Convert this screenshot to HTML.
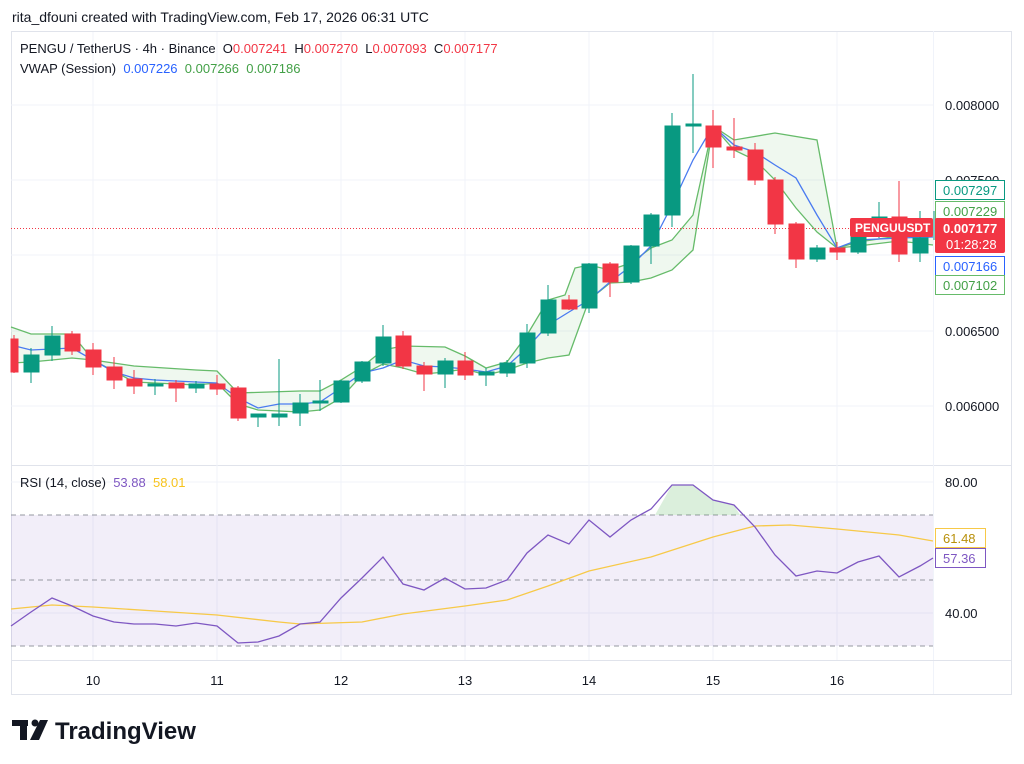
<!DOCTYPE html>
<html><head><meta charset="utf-8"><style>
body{margin:0;background:#fff;font-family:"Liberation Sans",sans-serif;}
svg{display:block}
</style></head><body>
<svg width="1024" height="764" xmlns="http://www.w3.org/2000/svg" font-family="Liberation Sans, sans-serif">
<rect width="1024" height="764" fill="#fff"/>
<text x="12" y="22" font-size="14" fill="#131722">rita_dfouni created with TradingView.com, Feb 17, 2026 06:31 UTC</text>
<rect x="11.5" y="31.5" width="1000" height="663" fill="none" stroke="#e0e3eb"/>
<line x1="11" y1="465.5" x2="1012" y2="465.5" stroke="#e0e3eb"/>
<line x1="933.5" y1="31" x2="933.5" y2="694" stroke="#f0f3fa"/>
<line x1="11" y1="660.5" x2="1012" y2="660.5" stroke="#e0e3eb"/>
<g stroke="#f0f3fa">
<line x1="93" y1="32" x2="93" y2="660"/><line x1="217" y1="32" x2="217" y2="660"/><line x1="341" y1="32" x2="341" y2="660"/><line x1="465" y1="32" x2="465" y2="660"/><line x1="589" y1="32" x2="589" y2="660"/><line x1="713" y1="32" x2="713" y2="660"/><line x1="837" y1="32" x2="837" y2="660"/>
<line x1="11" y1="105" x2="933" y2="105"/><line x1="11" y1="180" x2="933" y2="180"/><line x1="11" y1="255" x2="933" y2="255"/><line x1="11" y1="331" x2="933" y2="331"/><line x1="11" y1="406" x2="933" y2="406"/>
<line x1="11" y1="482" x2="933" y2="482"/><line x1="11" y1="613" x2="933" y2="613"/>
</g>
<text x="20" y="53" font-size="13" fill="#131722" xml:space="preserve">PENGU / TetherUS · 4h · Binance  O<tspan fill="#f23645">0.007241</tspan>  H<tspan fill="#f23645">0.007270</tspan>  L<tspan fill="#f23645">0.007093</tspan>  C<tspan fill="#f23645">0.007177</tspan></text>
<text x="20" y="73" font-size="13" fill="#131722" xml:space="preserve">VWAP (Session)  <tspan fill="#2962ff">0.007226</tspan>  <tspan fill="#43a047">0.007266</tspan>  <tspan fill="#43a047">0.007186</tspan></text>
<polygon fill="rgba(76,175,80,0.09)" points="11,327 31,334 72,334 93,360 134,366 196,370 217,371 238,393 300,391 320,391 341,380 362,367 383,350 403,346 445,347 465,356 486,368 507,362 527,335 548,300 565,295 575,268 589,265 610,270 631,263 651,248 672,240 693,215 713,126 734,140 775,133 817,140 837,248 858,242 899,236 933,230 933,245 899,241 858,246 837,248 817,232 796,208 775,180 755,160 734,150 713,126 693,250 672,270 651,278 631,282 610,283 589,300 569,355 548,358 527,363 507,370 486,375 465,369 445,372 424,374 403,368 383,364 362,375 341,398 320,410 300,412 258,410 238,404 217,383 196,385 155,383 134,382 93,360 72,358 52,360 31,362 11,363"/>
<polyline fill="none" stroke="#66bb6a" stroke-width="1.3" points="11,327 31,334 72,334 93,360 134,366 196,370 217,371 238,393 300,391 320,391 341,380 362,367 383,350 403,346 445,347 465,356 486,368 507,362 527,335 548,300 565,295 575,268 589,265 610,270 631,263 651,248 672,240 693,215 713,126 734,140 775,133 817,140 837,248 858,242 899,236 933,230"/>
<polyline fill="none" stroke="#66bb6a" stroke-width="1.3" points="11,363 31,362 52,360 72,358 93,360 134,382 155,383 196,385 217,383 238,404 258,410 300,412 320,410 341,398 362,375 383,364 403,368 424,374 445,372 465,369 486,375 507,370 527,363 548,358 569,355 589,300 610,283 631,282 651,278 672,270 693,250 713,126 734,150 755,160 775,180 796,208 817,232 837,248 858,246 899,241 933,245"/>
<polyline fill="none" stroke="#4a7bf0" stroke-width="1.3" points="11,345 31,350 52,349 72,348 93,360 114,372 134,378 155,380 196,382 217,383 238,398 258,408 279,404 300,404 320,402 341,388 362,373 383,368 403,360 424,366 445,367 465,369 486,372 507,366 527,348 548,325 569,312 589,300 610,282 631,266 651,246 672,205 693,160 713,126 734,145 755,152 775,165 796,178 817,215 837,248 858,240 899,238 933,237"/>
<line x1="11" y1="228.5" x2="933" y2="228.5" stroke="#f23645" stroke-dasharray="1,2"/>
<g stroke-width="1">
<g stroke="#f23645" fill="#f23645">
<line x1="14" y1="335" x2="14" y2="373"/><rect x="11" y="339" width="7" height="33"/>
<line x1="72" y1="331" x2="72" y2="355"/><rect x="65" y="334" width="15" height="17"/>
<line x1="93" y1="343" x2="93" y2="375"/><rect x="86" y="350" width="15" height="17"/>
<line x1="114" y1="357" x2="114" y2="389"/><rect x="107" y="367" width="15" height="13"/>
<line x1="134" y1="370" x2="134" y2="394"/><rect x="127" y="379" width="15" height="7"/>
<line x1="176" y1="380" x2="176" y2="402"/><rect x="169" y="383" width="15" height="5"/>
<line x1="217" y1="375" x2="217" y2="395"/><rect x="210" y="384" width="15" height="5"/>
<line x1="238" y1="386" x2="238" y2="421"/><rect x="231" y="388" width="15" height="30"/>
<line x1="403" y1="331" x2="403" y2="369"/><rect x="396" y="336" width="15" height="30"/>
<line x1="424" y1="362" x2="424" y2="391"/><rect x="417" y="366" width="15" height="8"/>
<line x1="465" y1="352" x2="465" y2="380"/><rect x="458" y="361" width="15" height="14"/>
<line x1="569" y1="295" x2="569" y2="310"/><rect x="562" y="300" width="15" height="9"/>
<line x1="610" y1="262" x2="610" y2="297"/><rect x="603" y="264" width="15" height="18"/>
<line x1="713" y1="110" x2="713" y2="168"/><rect x="706" y="126" width="15" height="21"/>
<line x1="734" y1="118" x2="734" y2="158"/><rect x="727" y="147" width="15" height="3"/>
<line x1="755" y1="143" x2="755" y2="185"/><rect x="748" y="150" width="15" height="30"/>
<line x1="775" y1="177" x2="775" y2="234"/><rect x="768" y="180" width="15" height="44"/>
<line x1="796" y1="222" x2="796" y2="268"/><rect x="789" y="224" width="15" height="35"/>
<line x1="837" y1="242" x2="837" y2="260"/><rect x="830" y="248" width="15" height="4"/>
<line x1="899" y1="181" x2="899" y2="262"/><rect x="892" y="217" width="15" height="37"/>
</g>
<g stroke="#089981" fill="#089981">
<line x1="31" y1="348" x2="31" y2="383"/><rect x="24" y="355" width="15" height="17"/>
<line x1="52" y1="326" x2="52" y2="361"/><rect x="45" y="336" width="15" height="19"/>
<line x1="155" y1="379" x2="155" y2="395"/><rect x="148" y="384" width="15" height="2"/>
<line x1="196" y1="381" x2="196" y2="393"/><rect x="189" y="384" width="15" height="4"/>
<line x1="258" y1="415" x2="258" y2="427"/><rect x="251" y="414" width="15" height="3"/>
<line x1="279" y1="359" x2="279" y2="426"/><rect x="272" y="414" width="15" height="3"/>
<line x1="300" y1="394" x2="300" y2="426"/><rect x="293" y="403" width="15" height="10"/>
<line x1="320" y1="380" x2="320" y2="411"/><rect x="313" y="401" width="15" height="2"/>
<line x1="341" y1="380" x2="341" y2="403"/><rect x="334" y="381" width="15" height="21"/>
<line x1="362" y1="361" x2="362" y2="383"/><rect x="355" y="362" width="15" height="19"/>
<line x1="383" y1="325" x2="383" y2="366"/><rect x="376" y="337" width="15" height="26"/>
<line x1="445" y1="358" x2="445" y2="388"/><rect x="438" y="361" width="15" height="13"/>
<line x1="486" y1="368" x2="486" y2="386"/><rect x="479" y="372" width="15" height="3"/>
<line x1="507" y1="360" x2="507" y2="377"/><rect x="500" y="363" width="15" height="10"/>
<line x1="527" y1="324" x2="527" y2="368"/><rect x="520" y="333" width="15" height="30"/>
<line x1="548" y1="285" x2="548" y2="336"/><rect x="541" y="300" width="15" height="33"/>
<line x1="589" y1="263" x2="589" y2="313"/><rect x="582" y="264" width="15" height="44"/>
<line x1="631" y1="245" x2="631" y2="284"/><rect x="624" y="246" width="15" height="36"/>
<line x1="651" y1="213" x2="651" y2="264"/><rect x="644" y="215" width="15" height="31"/>
<line x1="672" y1="113" x2="672" y2="227"/><rect x="665" y="126" width="15" height="89"/>
<line x1="693" y1="74" x2="693" y2="153"/><rect x="686" y="124" width="15" height="2"/>
<line x1="817" y1="245" x2="817" y2="262"/><rect x="810" y="248" width="15" height="11"/>
<line x1="858" y1="220" x2="858" y2="254"/><rect x="851" y="228" width="15" height="24"/>
<line x1="879" y1="202" x2="879" y2="238"/><rect x="872" y="217" width="15" height="11"/>
<line x1="920" y1="211" x2="920" y2="262"/><rect x="913" y="238" width="15" height="15"/>
<line x1="934" y1="211" x2="934" y2="240"/>
</g>
</g>
<g font-size="13" fill="#131722">
<text x="945" y="110">0.008000</text>
<text x="945" y="185">0.007500</text>
<text x="945" y="336">0.006500</text>
<text x="945" y="411">0.006000</text>
</g>
<rect x="935.5" y="180.5" width="69" height="19" fill="#fff" stroke="#089981"/><text x="943" y="195" font-size="13" fill="#089981">0.007297</text>
<rect x="935.5" y="201.5" width="69" height="19" fill="#fff" stroke="#66bb6a"/><text x="943" y="216" font-size="13" fill="#43a047">0.007229</text>
<rect x="850" y="218" width="83" height="19" rx="2" fill="#f23645"/><text x="855" y="232" font-size="12" font-weight="bold" fill="#fff">PENGUUSDT</text>
<rect x="935" y="218" width="70" height="35" rx="2" fill="#f23645"/><text x="943" y="233" font-size="13" font-weight="bold" fill="#fff">0.007177</text><text x="946" y="249" font-size="13" fill="#fff">01:28:28</text>
<rect x="935.5" y="256.5" width="69" height="19" fill="#fff" stroke="#2962ff"/><text x="943" y="271" font-size="13" fill="#2962ff">0.007166</text>
<rect x="935.5" y="275.5" width="69" height="19" fill="#fff" stroke="#66bb6a"/><text x="943" y="290" font-size="13" fill="#43a047">0.007102</text>
<text x="20" y="487" font-size="13" fill="#131722" xml:space="preserve">RSI (14, close)  <tspan fill="#7e57c2">53.88</tspan>  <tspan fill="#f7c31c">58.01</tspan></text>
<rect x="11" y="515" width="922" height="131" fill="rgba(126,87,194,0.1)"/>
<g stroke="#9598a1" stroke-dasharray="5,4"><line x1="11" y1="515" x2="933" y2="515"/><line x1="11" y1="580" x2="933" y2="580"/><line x1="11" y1="646" x2="933" y2="646"/></g>
<polygon fill="rgba(76,175,80,0.2)" points="655,515 672,485 693,485 713,500 734,505 740,515"/>
<polyline fill="none" stroke="#f7c948" stroke-width="1.3" points="11,609 52,605 93,607 155,611 217,615 279,622 300,624 362,622 403,614 465,606 507,600 548,586 589,571 651,557 713,537 755,526 790,525 837,529 899,535 933,541"/>
<polyline fill="none" stroke="#7e57c2" stroke-width="1.3" points="11,626 31,612 52,598 72,606 93,616 114,622 134,624 155,624 176,626 196,623 217,626 238,643 258,642 279,636 300,624 320,622 341,598 362,578 383,557 403,584 424,590 445,578 465,589 486,588 507,580 527,553 548,535 569,544 589,520 610,537 631,520 651,509 672,485 693,485 713,500 734,505 755,527 775,555 796,576 817,571 837,573 858,562 879,556 899,577 920,566 933,558"/>
<g font-size="13" fill="#131722"><text x="945" y="487">80.00</text><text x="945" y="618">40.00</text></g>
<rect x="935.5" y="528.5" width="50" height="19" fill="#fff" stroke="#f7c948"/><text x="943" y="543" font-size="13" fill="#b8900a">61.48</text>
<rect x="935.5" y="548.5" width="50" height="19" fill="#fff" stroke="#7e57c2"/><text x="943" y="563" font-size="13" fill="#7e57c2">57.36</text>
<g font-size="13" fill="#131722" text-anchor="middle">
<text x="93" y="685">10</text><text x="217" y="685">11</text><text x="341" y="685">12</text><text x="465" y="685">13</text><text x="589" y="685">14</text><text x="713" y="685">15</text><text x="837" y="685">16</text>
</g>
<g fill="#131722">
<rect x="12" y="720" width="16" height="6"/><rect x="20" y="720" width="7" height="20"/>
<circle cx="35" cy="723" r="3.5"/><polygon points="40,720 48,720 39,740 30,740"/>
<text x="55" y="739" font-size="24" font-weight="bold">TradingView</text>
</g>
</svg>
</body></html>
